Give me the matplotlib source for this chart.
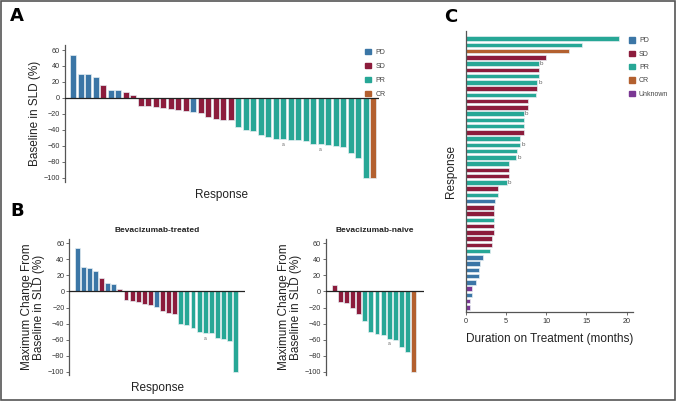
import matplotlib
matplotlib.use("Agg")
import matplotlib.pyplot as plt
from matplotlib.patches import Rectangle, Patch

plt.rcParams['font.family'] = ['Liberation Sans Narrow', 'Liberation Sans', 'DejaVu Sans']

# colours per response
colors = {'PD': '#3b76a6', 'SD': '#8c1c3c', 'PR': '#27a796', 'CR': '#b3602f', 'Unknown': '#7a3793'}

# Panel A - all patients
a_change = [54, 30, 29.4, 26, 16.4, 10.5, 9.7, 8, 3.8,
            -9.7, -10.5, -12, -13, -14, -15.6, -16.5, -18, -19.5, -23.7, -26.5, -28, -28,
            -36, -40, -42, -46, -49, -51, -52, -52.5, -52.5, -54, -57.5, -58, -59, -60, -62, -69, -75, -100,
            -100]
a_resp = ['PD', 'PD', 'PD', 'PD', 'SD', 'PD', 'PD', 'SD', 'SD',
          'SD', 'SD', 'SD', 'SD', 'SD', 'SD', 'SD', 'PD', 'SD', 'SD', 'SD', 'SD', 'SD'] + ['PR'] * 18 + ['CR']
a_marks = [28, 33]

# Panel B - bevacizumab-treated
bt_change = [54, 30, 29.4, 26, 16.4, 10, 9, 3.4,
             -10.5, -11.3, -12.6, -16, -16.8, -18.9, -24, -26.5, -28,
             -40.8, -42, -45.8, -51, -52, -52, -58, -59.7, -62, -100]
bt_resp = ['PD', 'PD', 'PD', 'PD', 'SD', 'PD', 'PD', 'SD',
           'SD', 'SD', 'SD', 'SD', 'SD', 'PD', 'SD', 'SD', 'SD'] + ['PR'] * 10
bt_marks = [21]

# Panel B - bevacizumab-naive
bn_change = [8, -13.4, -14.3, -20, -27.7, -37, -50.4, -53, -54.6, -58.8, -60.5, -69, -75, -100]
bn_resp = ['SD'] * 5 + ['PR'] * 8 + ['CR']
bn_marks = [9]

# Panel C - duration on treatment (top to bottom)
c_months = [19.0, 14.4, 12.8, 10.0, 9.1, 9.1, 9.1, 8.9, 8.85, 8.7, 7.7, 7.7, 7.25, 7.25, 7.25, 7.3,
            6.8, 6.8, 6.4, 6.3, 5.4, 5.4, 5.4, 5.1, 4.0, 4.0, 3.6, 3.55, 3.55, 3.55, 3.5, 3.5,
            3.27, 3.27, 3.06, 2.14, 1.77, 1.66, 1.66, 1.28, 0.79, 0.79, 0.58, 0.58]
c_resp = ['PR', 'PR', 'CR', 'SD', 'PR', 'SD', 'PR', 'PR', 'SD', 'PR', 'SD', 'SD', 'PR', 'PR', 'PR', 'SD',
          'PR', 'PR', 'PR', 'PR', 'PR', 'SD', 'SD', 'PR', 'SD', 'PR', 'PD', 'SD', 'SD', 'PR', 'SD', 'SD',
          'SD', 'SD', 'PR', 'PD', 'PD', 'PD', 'PD', 'PD', 'Unknown', 'PD', 'Unknown', 'Unknown']
c_marks = [4, 7, 12, 17, 19, 23]

W, H = 676, 401
fig = plt.figure(figsize=(W / 100, H / 100), dpi=100)


def box(x0, y0, x1, y1):
    # pixel box -> figure fraction
    return [x0 / W, 1 - y1 / H, (x1 - x0) / W, (y1 - y0) / H]


def waterfall(ax, vals, resp, marks, xlim, ylim):
    x = range(len(vals))
    ax.bar(x, vals, width=0.8, color=[colors[r] for r in resp],
           edgecolor='#e6eef2', linewidth=0.5)
    ax.axhline(0, color='#222222', lw=0.9, zorder=3)
    for i in marks:
        ax.text(i, vals[i] - 3, 'a', ha='center', va='top', fontsize=3.5, color='#666666')
    ax.set_xlim(*xlim)
    ax.set_ylim(*ylim)
    ax.set_yticks(range(-100, 61, 20))
    ax.set_yticklabels(['\u2212%d' % -t if t < 0 else str(t) for t in range(-100, 61, 20)])
    ax.set_xticks([])
    for s in ['top', 'right', 'bottom']:
        ax.spines[s].set_visible(False)
    ax.spines['left'].set_color('#555555')
    ax.spines['left'].set_linewidth(0.9)
    ax.tick_params(axis='y', labelsize=5.2, length=2, width=0.6, pad=1.5,
                   color='#555555', labelcolor='#333333')


# Panel A
ax_a = fig.add_axes(box(65, 45, 379, 181.7))
waterfall(ax_a, a_change, a_resp, a_marks, (-1.1, 40.8), (-105, 66.3))
ax_a.set_ylabel('Baseline in SLD (%)', fontsize=8.5, labelpad=2, color='#222222')
ax_a.set_xlabel('Response', fontsize=8.5, labelpad=5, color='#222222')
handles = [Patch(color=colors[k]) for k in ['PD', 'SD', 'PR', 'CR']]
ax_a.legend(handles, ['PD', 'SD', 'PR', 'CR'], loc='upper right', bbox_to_anchor=(1.04, 1.02),
            frameon=False, fontsize=5, handlelength=0.8, handleheight=0.8,
            handletextpad=0.6, labelspacing=1.0, labelcolor='#444444')

# Panel B left
ax_bt = fig.add_axes(box(69.3, 239.3, 244.8, 375))
waterfall(ax_bt, bt_change, bt_resp, bt_marks, (-1.3, 27.5), (-104.1, 65))
ax_bt.set_title('Bevacizumab-treated', fontsize=6, fontweight='bold', pad=5, color='#222222')
ax_bt.set_ylabel('Maximum Change From\nBaseline in SLD (%)', fontsize=8.5, labelpad=2,
                 color='#222222', linespacing=1.0)
ax_bt.set_xlabel('Response', fontsize=8.5, labelpad=5, color='#222222')

# Panel B right
ax_bn = fig.add_axes(box(325.7, 239.3, 424, 375))
waterfall(ax_bn, bn_change, bn_resp, bn_marks, (-1.4, 14.7), (-104.1, 65))
ax_bn.set_title('Bevacizumab-naive', fontsize=6, fontweight='bold', pad=5, color='#222222')
ax_bn.set_ylabel('Maximum Change From\nBaseline in SLD (%)', fontsize=8.5, labelpad=2,
                 color='#222222', linespacing=1.0)

# Panel C
ax_c = fig.add_axes(box(465.7, 31, 633, 312.3))
y = range(len(c_months))
ax_c.barh(y, c_months, height=0.72, color=[colors[r] for r in c_resp],
          edgecolor='#e6eef2', linewidth=0.5)
for i in c_marks:
    ax_c.text(c_months[i] + 0.1, i, 'b', ha='left', va='center', fontsize=4.5, color='#666666')
ax_c.set_ylim(43.8, -1.23)
ax_c.set_xlim(0, 20.78)
ax_c.set_xticks([0, 5, 10, 15, 20])
ax_c.set_yticks([])
for s in ['top', 'right']:
    ax_c.spines[s].set_visible(False)
for s in ['left', 'bottom']:
    ax_c.spines[s].set_color('#555555')
    ax_c.spines[s].set_linewidth(0.9)
ax_c.tick_params(axis='x', labelsize=5.2, length=2, width=0.6, pad=2,
                 color='#555555', labelcolor='#333333')
ax_c.set_ylabel('Response', fontsize=8.5, labelpad=6, color='#222222')
ax_c.set_xlabel('Duration on Treatment (months)', fontsize=8.5, labelpad=6, color='#222222')
keys = ['PD', 'SD', 'PR', 'CR', 'Unknown']
ax_c.legend([Patch(color=colors[k]) for k in keys], keys, loc='upper left',
            bbox_to_anchor=(0.94, 1.0), frameon=False, fontsize=5, handlelength=0.8,
            handleheight=0.8, handletextpad=0.6, labelspacing=0.9, labelcolor='#444444')

# panel letters
fig.text(10 / W, 1 - 16 / H, 'A', fontsize=13, fontweight='bold', va='center', family='DejaVu Sans')
fig.text(10 / W, 1 - 211 / H, 'B', fontsize=13, fontweight='bold', va='center', family='DejaVu Sans')
fig.text(444 / W, 1 - 17 / H, 'C', fontsize=13, fontweight='bold', va='center', family='DejaVu Sans')

# outer frame
fig.patches.append(Rectangle((0.001, 0.002), 0.997, 0.996, transform=fig.transFigure,
                             fill=False, edgecolor='#555555', lw=1.2))

fig.savefig('out.png', dpi=100)
